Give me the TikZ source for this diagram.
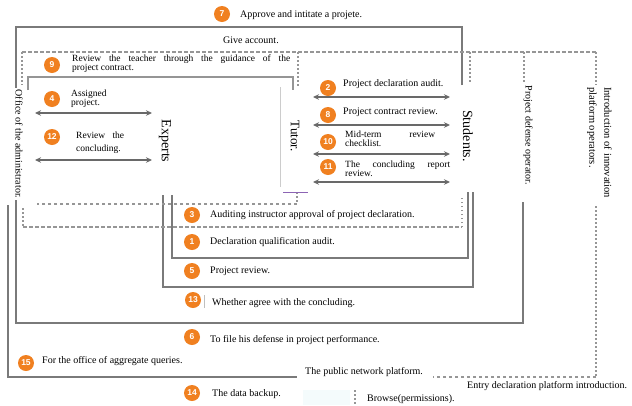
\documentclass[tikz,border=0pt]{standalone}
\usepackage{fontspec}
\setmainfont{Liberation Serif}
\newfontfamily\numfont{Liberation Sans}
\usetikzlibrary{arrows.meta}
\definecolor{lgray}{RGB}{122,122,122}
\definecolor{dgray}{RGB}{150,150,150}
\definecolor{orng}{RGB}{240,128,32}
\definecolor{arrgray}{RGB}{105,105,105}
\definecolor{purp}{RGB}{140,100,180}
\definecolor{faintblue}{RGB}{244,251,252}
\tikzset{
 sline/.style={draw=lgray, line width=1.8pt},
 thinbox/.style={draw=lgray!80, line width=1.1pt},
 dline/.style={draw=dgray, line width=1.5pt, dash pattern=on 3.5pt off 2.5pt},
 vdot/.style={draw=dgray, line width=1.5pt, dash pattern=on 1.5pt off 2.5pt},
 arr/.style={draw=arrgray, line width=1.6pt, {Stealth[length=6pt,width=5.5pt]}-{Stealth[length=6pt,width=5.5pt]}},
 num/.style={circle, fill=orng, text=white, inner sep=0pt, minimum size=16pt, font=\numfont\bfseries\fontsize{8.5}{8.5}\selectfont},
 lab/.style={anchor=west, inner sep=0pt, font=\fontsize{10}{10}\selectfont},
 tlab/.style={anchor=north west, inner sep=0pt, align=left, font=\fontsize{9.5}{8.5}\selectfont},
 role/.style={rotate=-90, inner sep=1pt, font=\fontsize{14}{14}\selectfont},
 vlab/.style={rotate=-90, inner sep=2pt, font=\fontsize{10}{10}\selectfont},
}
\begin{document}
\begin{tikzpicture}[x=1pt,y=-1pt]
\useasboundingbox (0,0) rectangle (632,405);
\fill[white] (0,0) rectangle (632,405);
\fill[faintblue] (303,390) rectangle (350,405);

% ---------- coordinates for connector ends
\coordinate (s1a) at (462,85);  \coordinate (s1b) at (462,27);
\coordinate (s1c) at (16,27);   \coordinate (s1d) at (16,323);
\coordinate (s1e) at (523,323); \coordinate (s1f) at (523,202);
\coordinate (s2a) at (8,205);   \coordinate (s2b) at (8,377);  \coordinate (s2c) at (297,377);
\coordinate (s3a) at (172,195); \coordinate (s3b) at (172,258);
\coordinate (s3c) at (468,258); \coordinate (s3d) at (468,192);
\coordinate (s4a) at (163,195); \coordinate (s4b) at (163,287);
\coordinate (s4c) at (473,287); \coordinate (s4d) at (473,192);
\coordinate (b1) at (28,90); \coordinate (b2) at (28,77); \coordinate (b3) at (293,77); \coordinate (b4) at (293,90);

% ---------- solid connectors
\draw[sline] (s1a) -- (s1b) -- (s1c) -- (s1d) -- (s1e) -- (s1f);
\draw[sline] (s2a) -- (s2b) -- (s2c);
\draw[sline] (s3a) -- (s3b) -- (s3c) -- (s3d);
\draw[sline] (s4a) -- (s4b) -- (s4c) -- (s4d);
\draw[thinbox] (b1) -- (b2) -- (b3) -- (b4);

% ---------- dashed connectors
\draw[dline] (22,52) -- (596,52);
\draw[vdot] (22,52) -- (22,85);
\draw[vdot] (298,52) -- (298,86);
\draw[vdot] (470,52) -- (470,82);
\draw[vdot] (524,52) -- (524,82);
\draw[vdot] (596,52) -- (596,85);
\draw[vdot] (596,206) -- (596,377);
\draw[dline] (596,377) -- (433,377);
\draw[vdot] (297,192) -- (297,204);
\draw[dline] (297,204) -- (37,204);
\draw[vdot] (23,208) -- (23,227);
\draw[dline] (23,227) -- (462,227);
\draw[vdot] (462,227) -- (462,195);
\draw[vdot] (355,390) -- (355,405);

% ---------- tutor box edge
\draw[gray!40, line width=0.6pt] (280,87) -- (280,187);
\draw[purp, line width=1pt] (283,192) -- (308,192);
\draw[gray!50, line width=0.6pt] (204,295) -- (204,308);

% ---------- double arrows
\coordinate (a4l) at (35,113);  \coordinate (a4r) at (152,113);
\coordinate (a12l) at (35,160); \coordinate (a12r) at (152,160);
\coordinate (a2l) at (313,97);  \coordinate (a2r) at (450,97);
\coordinate (a8l) at (313,125); \coordinate (a8r) at (450,125);
\coordinate (a10l) at (313,154);\coordinate (a10r) at (450,154);
\coordinate (a11l) at (313,182);\coordinate (a11r) at (450,182);
\draw[arr] (a4l) -- (a4r);
\draw[arr] (a12l) -- (a12r);
\draw[arr] (a2l) -- (a2r);
\draw[arr] (a8l) -- (a8r);
\draw[arr] (a10l) -- (a10r);
\draw[arr] (a11l) -- (a11r);

% ---------- role labels
\node[role] (experts) at (165,141) {Experts};
\node[role, font=\fontsize{13}{13}\selectfont] (tutor) at (295,136) {Tutor.};
\node[role] (students) at (468,136) {Students.};
\node[vlab, fill=white] (office) at (19,144) {Office of the administrator.};
\node[vlab] (defense) at (528,135) {Project defense operator.};
\node[rotate=-90, anchor=north west, inner sep=0pt, align=left, font=\fontsize{10.5}{15}\selectfont] (intro) at (612,87) {Introduction of innovation\\platform operators.};

% ---------- numbered circles
\node[num] (c7) at (222,14) {7};
\node[num] (c9) at (52,65) {9};
\node[num] (c4) at (52,99) {4};
\node[num] (c12) at (52,137) {12};
\node[num] (c2) at (328,88) {2};
\node[num] (c8) at (328,115) {8};
\node[num] (c10) at (328,142) {10};
\node[num] (c11) at (328,167) {11};
\node[num] (c3) at (192,215) {3};
\node[num] (c1) at (192,242) {1};
\node[num] (c5) at (192,271) {5};
\node[num] (c13) at (193,300) {13};
\node[num] (c6) at (192,337) {6};
\node[num] (c15) at (26,363) {15};
\node[num] (c14) at (192,393) {14};

% ---------- labels
\node[lab] (t7) at (240,15) {Approve and intitate a projete.};
\node[lab, anchor=center] (give) at (251,40) {Give account.};
\node[tlab] (t9) at (72,55) {\hbox to 218pt{Review\hfill the\hfill teacher\hfill through\hfill the\hfill guidance\hfill of\hfill the}\\project contract.};
\node[tlab] (t4) at (71,90) {Assigned\\project.};
\node[tlab, font=\fontsize{9.5}{13}\selectfont] (t12) at (76,132) {\hbox to 48pt{Review\hfill the}\\concluding.};
\node[lab] (t2) at (343,84) {Project declaration audit.};
\node[lab] (t8) at (343,112) {Project contract review.};
\node[tlab] (t10) at (345,131) {\hbox to 90pt{Mid-term\hfill review}\\checklist.};
\node[tlab] (t11) at (345,161) {\hbox to 105pt{The\hfill concluding\hfill report}\\review.};
\node[lab] (t3) at (210,215) {Auditing instructor approval of project declaration.};
\node[lab] (t1) at (210,242) {Declaration qualification audit.};
\node[lab] (t5) at (210,271) {Project review.};
\node[lab] (t13) at (212,303) {Whether agree with the concluding.};
\node[lab] (t6) at (210,340) {To file his defense in project performance.};
\node[lab] (t15) at (42,361) {For the office of aggregate queries.};
\node[lab] (t14) at (212,394) {The data backup.};
\node[lab] (pub) at (305,372) {The public network platform.};
\node[lab] (entry) at (467,386) {Entry declaration platform introduction.};
\node[lab] (browse) at (367,399) {Browse(permissions).};
\end{tikzpicture}
\end{document}
